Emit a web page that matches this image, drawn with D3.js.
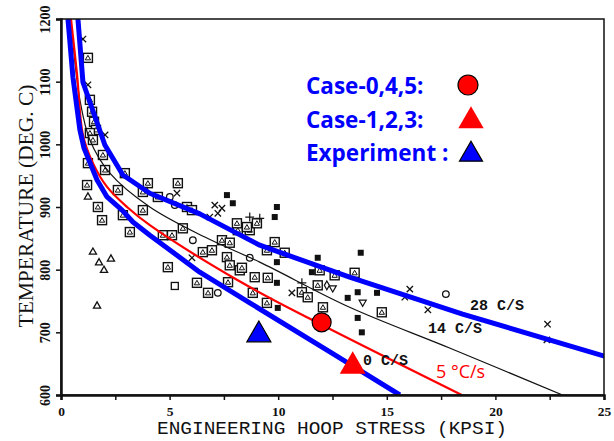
<!DOCTYPE html>
<html>
<head>
<meta charset="utf-8">
<script src="https://cdn.jsdelivr.net/npm/d3@7"></script>
<style>
  body { margin: 0; background: #fff; }
  svg { display: block; }
</style>
</head>
<body>
<div id="chart"></div>
<script>
// axis ticks
const xTicks = [0, 2.5, 5, 7.5, 10, 12.5, 15, 17.5, 20, 22.5, 25]
const yTicks = [600, 700, 800, 900, 1000, 1100, 1200]

// cooling-rate curves [stress kpsi, temp C]
const curve28 = [[0.78, 1200], [1.01, 1099], [2.02, 999], [2.85, 951], [4.09, 922], [6.39, 889], [9.15, 839], [13.29, 788], [18.49, 729], [25.02, 662]]
const curve14 = [[0.45, 1200], [0.87, 1071], [1.33, 1007], [2.25, 954], [4.09, 900], [6.62, 852], [9.15, 812], [13.29, 740], [17.89, 675], [23.09, 600]]
const curve5 = [[0.46, 1200], [0.74, 1111], [1.01, 1015], [1.47, 970], [2.12, 932], [3.04, 900], [4.09, 871], [8.14, 783], [11.55, 720], [18.45, 600]]
const curve0 = [[0.32, 1200], [0.55, 1107], [0.87, 1023], [1.06, 994], [1.66, 943], [2.12, 916], [2.81, 895], [3.31, 876], [4.09, 855], [6.39, 796], [8.69, 747], [12.38, 669], [15.6, 600]]

// scanned test points by symbol
const boxPts = [[1.24, 1138], [1.33, 1071], [1.43, 1052], [1.52, 1036], [1.61, 1023], [1.33, 1018], [1.47, 1007], [1.93, 983], [1.24, 970], [2.03, 959], [2.94, 954], [1.2, 935], [2.62, 927], [4.0, 938], [3.77, 924], [1.7, 900], [1.89, 879], [2.85, 887], [3.77, 895], [3.17, 860], [4.92, 804], [4.69, 855], [5.11, 855], [5.38, 938], [4.46, 916], [5.8, 900], [6.03, 895], [5.61, 866], [6.53, 828], [6.95, 831], [7.41, 847], [7.77, 843], [7.64, 820], [7.77, 807], [8.23, 799], [8.14, 863], [8.69, 863], [8.1, 874], [8.56, 868], [9.02, 874], [9.48, 831], [9.84, 844], [10.3, 827], [11.91, 799], [12.6, 791], [8.33, 803], [8.92, 788], [9.52, 787], [8.83, 763], [9.48, 747], [11.09, 764], [11.36, 756], [11.82, 775], [12.06, 740], [14.77, 732], [13.52, 795], [6.26, 779], [6.77, 763], [7.69, 780]]
const squarePts = [[5.24, 774]]
const crossPts = [[1.01, 1168], [1.24, 1095], [2.03, 1015], [5.34, 922], [7.08, 903], [7.41, 898], [7.22, 890], [6.85, 884], [6.03, 819], [10.63, 763], [16.06, 769], [16.89, 736], [22.4, 713], [22.37, 688], [15.83, 756]]
const triPts = [[1.24, 916], [1.47, 828], [1.75, 811], [2.3, 817], [1.98, 799], [1.66, 742]]
const filledPts = [[7.64, 919], [7.91, 906], [9.94, 900], [9.84, 884], [9.94, 812], [11.82, 819], [11.55, 796], [9.94, 779], [9.98, 739], [13.2, 755], [13.66, 723], [13.85, 700], [13.8, 827], [13.66, 764], [14.55, 763]]
const circlePts = [[5.01, 916], [5.24, 903], [6.07, 847], [8.69, 819], [17.72, 761], [7.22, 763]]
const plusPts = [[8.69, 884], [9.15, 882], [11.09, 779]]
const downTriPts = [[12.51, 771], [13.89, 748]]
const diamondPts = [[12.24, 775]]

// simulation / experiment markers
const case045 = [[12.0, 716]]
const case123 = [[13.43, 646]]
const experiment = [[9.11, 696]]

const legendLabels = ['Case-0,4,5:', 'Case-1,2,3:', 'Experiment :']
const curveLabels = [['28 C/S', 470, 310], ['14 C/S', 428, 333], ['0 C/S', 363, 365]]

const W = 614
const H = 441
const plotLeft = 61
const plotRight = 604
const plotTop = 19
const plotBottom = 395

const svg = d3.select('#chart')
  .append('svg')
  .attr('width', W)
  .attr('height', H)

const x = d3.scaleLinear().domain([0, 25]).range([plotLeft, plotRight])
const y = d3.scaleLinear().domain([600, 1200]).range([plotBottom, plotTop])

svg.append('clipPath')
  .attr('id', 'plotClip')
  .append('rect')
  .attr('x', plotLeft)
  .attr('y', plotTop)
  .attr('width', plotRight - plotLeft)
  .attr('height', plotBottom - plotTop)

const plot = svg.append('g').attr('clip-path', 'url(#plotClip)')

// scatter symbols
function place (d) { return `translate(${x(d[0])},${y(d[1])})` }

const boxes = plot.append('g').selectAll('g')
  .data(boxPts)
  .join('g')
  .attr('transform', place)
boxes.append('rect')
  .attr('x', -4.5).attr('y', -4.5)
  .attr('width', 9).attr('height', 9)
  .style('fill', '#fff')
  .style('stroke', '#111')
  .style('stroke-width', 1.4)
boxes.append('path')
  .attr('d', d3.symbol(d3.symbolTriangle, 12))
  .attr('transform', 'translate(0,0.5)')
  .style('fill', 'none')
  .style('stroke', '#111')
  .style('stroke-width', 1)

plot.append('g').selectAll('rect')
  .data(squarePts)
  .join('rect')
  .attr('x', d => x(d[0]) - 3.5)
  .attr('y', d => y(d[1]) - 3.5)
  .attr('width', 7).attr('height', 7)
  .style('fill', '#fff')
  .style('stroke', '#111')
  .style('stroke-width', 1.3)

plot.append('g').selectAll('path')
  .data(crossPts)
  .join('path')
  .attr('transform', place)
  .attr('d', d3.symbol(d3.symbolX, 28))
  .style('fill', 'none')
  .style('stroke', '#111')
  .style('stroke-width', 1.3)

plot.append('g').selectAll('path')
  .data(plusPts)
  .join('path')
  .attr('transform', place)
  .attr('d', d3.symbol(d3.symbolPlus, 28))
  .style('fill', 'none')
  .style('stroke', '#111')
  .style('stroke-width', 1.2)

plot.append('g').selectAll('path')
  .data(triPts)
  .join('path')
  .attr('transform', place)
  .attr('d', d3.symbol(d3.symbolTriangle, 22))
  .style('fill', '#fff')
  .style('stroke', '#111')
  .style('stroke-width', 1.3)

plot.append('g').selectAll('path')
  .data(downTriPts)
  .join('path')
  .attr('transform', d => place(d) + ' rotate(180)')
  .attr('d', d3.symbol(d3.symbolTriangle, 22))
  .style('fill', '#fff')
  .style('stroke', '#111')
  .style('stroke-width', 1.2)

plot.append('g').selectAll('path')
  .data(diamondPts)
  .join('path')
  .attr('transform', place)
  .attr('d', d3.symbol(d3.symbolDiamond, 22))
  .style('fill', '#fff')
  .style('stroke', '#111')
  .style('stroke-width', 1.2)

plot.append('g').selectAll('circle')
  .data(circlePts)
  .join('circle')
  .attr('cx', d => x(d[0]))
  .attr('cy', d => y(d[1]))
  .attr('r', 3.3)
  .style('fill', '#fff')
  .style('stroke', '#111')
  .style('stroke-width', 1.3)

plot.append('g').selectAll('rect')
  .data(filledPts)
  .join('rect')
  .attr('x', d => x(d[0]) - 3)
  .attr('y', d => y(d[1]) - 3)
  .attr('width', 6).attr('height', 6)
  .style('fill', '#111')

// curves
const smooth = d3.line()
  .x(d => x(d[0]))
  .y(d => y(d[1]))
  .curve(d3.curveCatmullRom)
const straight = d3.line()
  .x(d => x(d[0]))
  .y(d => y(d[1]))

plot.append('path')
  .datum(curve14)
  .attr('d', smooth)
  .style('fill', 'none')
  .style('stroke', '#111')
  .style('stroke-width', 1.2)

plot.append('path')
  .datum(curve5)
  .attr('d', smooth)
  .style('fill', 'none')
  .style('stroke', '#ff0000')
  .style('stroke-width', 2.2)

for (const c of [curve28, curve0]) {
  plot.append('path')
    .datum(c)
    .attr('d', straight)
    .style('fill', 'none')
    .style('stroke', '#0000ff')
    .style('stroke-width', 5)
    .style('stroke-linejoin', 'round')
}

// frame
svg.append('rect')
  .attr('x', plotLeft)
  .attr('y', plotTop)
  .attr('width', plotRight - plotLeft)
  .attr('height', plotBottom - plotTop)
  .style('fill', 'none')
  .style('stroke', '#111')
  .style('stroke-width', 1.5)

// axes
const xAxis = svg.append('g')
  .attr('transform', `translate(0,${plotBottom})`)
  .call(d3.axisBottom(x).tickValues(xTicks).tickSize(5).tickPadding(6)
    .tickFormat(d => d % 5 === 0 ? d : ''))
xAxis.select('.domain').style('stroke-width', 2.5).style('stroke', '#111')
xAxis.selectAll('line').style('stroke-width', 1.5).style('stroke', '#111')
xAxis.selectAll('text')
  .style('font-family', '"Liberation Serif", serif')
  .style('font-weight', 'bold')
  .style('font-size', '13.5px')
  .style('fill', '#111')

const yAxis = svg.append('g')
  .attr('transform', `translate(${plotLeft},0)`)
  .call(d3.axisLeft(y).tickValues(yTicks).tickSize(5).tickFormat(d3.format('d')))
yAxis.select('.domain').style('stroke-width', 2.5).style('stroke', '#111')
yAxis.selectAll('line').style('stroke-width', 1.5).style('stroke', '#111')
yAxis.selectAll('text')
  .attr('x', 0)
  .attr('dy', 0)
  .attr('text-anchor', 'middle')
  .attr('transform', 'translate(-11,0) rotate(-90)')
  .style('font-family', '"Liberation Serif", serif')
  .style('font-weight', 'bold')
  .style('font-size', '14px')
  .style('fill', '#111')

svg.append('text')
  .attr('x', 332)
  .attr('y', 434)
  .attr('text-anchor', 'middle')
  .attr('textLength', 350)
  .attr('lengthAdjust', 'spacingAndGlyphs')
  .style('font-family', '"Liberation Mono", monospace')
  .style('font-size', '18px')
  .style('fill', '#111')
  .text('ENGINEERING HOOP STRESS (KPSI)')

svg.append('text')
  .attr('transform', 'translate(33,206) rotate(-90)')
  .attr('text-anchor', 'middle')
  .attr('textLength', 243)
  .attr('lengthAdjust', 'spacingAndGlyphs')
  .style('font-family', '"Liberation Serif", serif')
  .style('font-size', '21px')
  .style('fill', '#111')
  .text('TEMPERATURE (DEG. C)')

// curve labels
svg.append('g').selectAll('text')
  .data(curveLabels)
  .join('text')
  .attr('x', d => d[1])
  .attr('y', d => d[2])
  .style('font-family', '"Liberation Mono", monospace')
  .style('font-weight', 'bold')
  .style('font-size', '15px')
  .style('fill', '#111')
  .text(d => d[0])

svg.append('text')
  .attr('x', 436)
  .attr('y', 378)
  .style('font-family', '"Open Sans", sans-serif')
  .style('font-size', '18px')
  .style('fill', '#ff0000')
  .text('5 \u00b0C/s')

// highlighted markers
svg.append('g').selectAll('circle')
  .data(case045)
  .join('circle')
  .attr('cx', d => x(d[0]))
  .attr('cy', d => y(d[1]))
  .attr('r', 9.5)
  .style('fill', '#ff0000')
  .style('stroke', '#000')
  .style('stroke-width', 1.2)

svg.append('g').selectAll('path')
  .data(case123)
  .join('path')
  .attr('transform', place)
  .attr('d', d3.symbol(d3.symbolTriangle, 290))
  .style('fill', '#ff0000')

svg.append('g').selectAll('path')
  .data(experiment)
  .join('path')
  .attr('transform', place)
  .attr('d', d3.symbol(d3.symbolTriangle, 250))
  .style('fill', '#0000ff')
  .style('stroke', '#000')
  .style('stroke-width', 1.2)

// legend
const legend = svg.append('g')
legend.selectAll('text')
  .data(legendLabels)
  .join('text')
  .attr('x', 306)
  .attr('y', (d, i) => 94 + i * 33.5)
  .style('font-family', '"Open Sans", sans-serif')
  .style('font-weight', 'bold')
  .style('font-size', '22.5px')
  .style('fill', '#0000ff')
  .text(d => d)

legend.append('circle')
  .attr('cx', 468).attr('cy', 85).attr('r', 10)
  .style('fill', '#ff0000')
  .style('stroke', '#000')
  .style('stroke-width', 1.2)
legend.append('path')
  .attr('transform', 'translate(471,121)')
  .attr('d', d3.symbol(d3.symbolTriangle, 280))
  .style('fill', '#ff0000')
legend.append('path')
  .attr('transform', 'translate(471,154.5)')
  .attr('d', d3.symbol(d3.symbolTriangle, 230))
  .style('fill', '#0000ff')
  .style('stroke', '#000')
  .style('stroke-width', 1.2)
</script>
</body>
</html>
